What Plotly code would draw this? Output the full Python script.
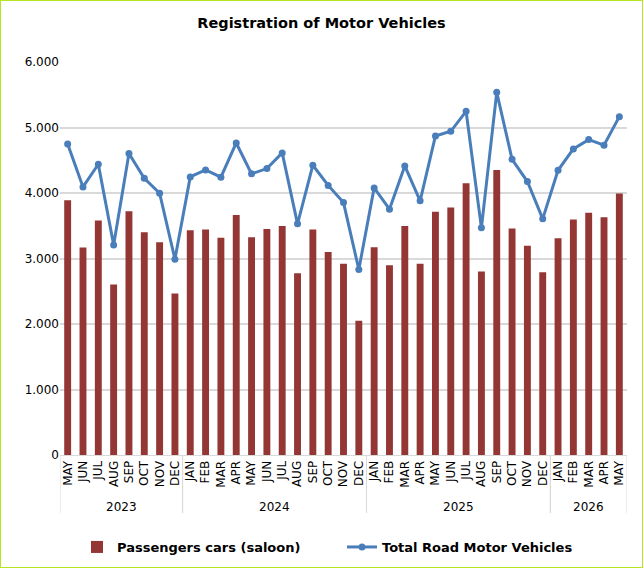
import plotly.graph_objects as go

years = ["2023"] * 8 + ["2024"] * 12 + ["2025"] * 12 + ["2026"] * 5
months = (["MAY", "JUN", "JUL", "AUG", "SEP", "OCT", "NOV", "DEC"]
          + ["JAN", "FEB", "MAR", "APR", "MAY", "JUN", "JUL", "AUG", "SEP", "OCT", "NOV", "DEC"] * 2
          + ["JAN", "FEB", "MAR", "APR", "MAY"])

passenger_cars = [3890, 3168, 3580, 2603, 3722, 3402, 3249, 2466,
                  3432, 3442, 3315, 3666, 3325, 3452, 3498, 2776, 3442, 3100, 2919, 2049,
                  3173, 2898, 3498, 2919, 3712, 3778, 4149, 2802, 4352, 3458, 3193, 2791,
                  3310, 3595, 3697, 3630, 3991]

total_vehicles = [4749, 4093, 4439, 3208, 4602, 4225, 3997, 2990,
                  4246, 4352, 4241, 4764, 4292, 4373, 4612, 3529, 4424, 4116, 3854, 2832,
                  4078, 3753, 4413, 3880, 4871, 4942, 5247, 3468, 5537, 4515, 4175, 3605,
                  4347, 4673, 4815, 4729, 5166]

W, H = 643, 568
ml, mr, mt, mb = 60, 16, 62, 113
pw, ph = W - ml - mr, H - mt - mb

# category keys (unique) built from the year / month lists
keys = [f"{y}-{i:02d}-{m}" for i, (y, m) in enumerate(zip(years, months))]
n = len(keys)

# year groups: (label, first index, last index)
groups = []
for i, y in enumerate(years):
    if groups and groups[-1][0] == y:
        groups[-1][2] = i
    else:
        groups.append([y, i, i])

fig = go.Figure()
fig.add_trace(go.Bar(
    x=keys, y=passenger_cars, name="Passengers cars (saloon)",
    marker=dict(color="#943634", line=dict(width=0)),
))
fig.add_trace(go.Scatter(
    x=keys, y=total_vehicles, name="Total Road Motor Vehicles",
    mode="lines+markers",
    line=dict(color="#4a7ebb", width=3),
    marker=dict(color="#4a7ebb", size=7),
))

shapes = [dict(type="rect", xref="paper", yref="paper",
               x0=-ml / pw, x1=1 + mr / pw, y0=-mb / ph, y1=1 + mt / ph,
               line=dict(color="#b5e61d", width=2), fillcolor="rgba(0,0,0,0)")]
annotations = []
div_bottom = -(513 - (mt + ph)) / ph
year_y = -(507 - (mt + ph)) / ph
for label, a, b in groups:
    for xb in (a - 0.5, b + 0.5):
        shapes.append(dict(type="line", xref="x", yref="paper", x0=xb, x1=xb,
                           y0=0, y1=div_bottom, line=dict(color="#d9d9d9", width=1)))
    annotations.append(dict(text=label, xref="x", yref="paper", x=(a + b) / 2,
                            y=year_y, showarrow=False, yanchor="middle",
                            font=dict(size=12, color="black")))

fig.update_layout(
    width=W, height=H,
    margin=dict(l=ml, r=mr, t=mt, b=mb, autoexpand=False),
    paper_bgcolor="white", plot_bgcolor="white",
    font=dict(family="DejaVu Sans", size=12, color="black"),
    separators=",.",
    bargap=0.55,
    title=dict(text="<b>Registration of Motor Vehicles</b>", x=0.5, xanchor="center",
               y=1 - 23 / H, yanchor="middle", font=dict(size=14.5, color="black")),
    showlegend=True,
    legend=dict(orientation="h", x=(77 - ml) / pw, xanchor="left",
                y=-(547 - (mt + ph)) / ph, yanchor="middle",
                bgcolor="rgba(0,0,0,0)",
                font=dict(size=13, color="black", weight="bold"),
                traceorder="normal", entrywidth=220, entrywidthmode="pixels"),
    xaxis=dict(type="category", tickmode="array", tickvals=keys, ticktext=months,
               tickangle=-90, range=[-0.5, n - 0.5], showline=True,
               linecolor="#d9d9d9", linewidth=1, ticks="", showgrid=False,
               automargin=False, tickfont=dict(size=12)),
    yaxis=dict(range=[0, 6000], dtick=1000, tickformat=",d", showgrid=True,
               gridcolor="#d9d9d9", gridwidth=1.5, zeroline=False, showline=False,
               ticks="", automargin=False, tickfont=dict(size=12)),
    shapes=shapes,
    annotations=annotations,
)

fig.write_html("out.html", config={"displayModeBar": False},
               post_script="document.body.style.margin='0';")
